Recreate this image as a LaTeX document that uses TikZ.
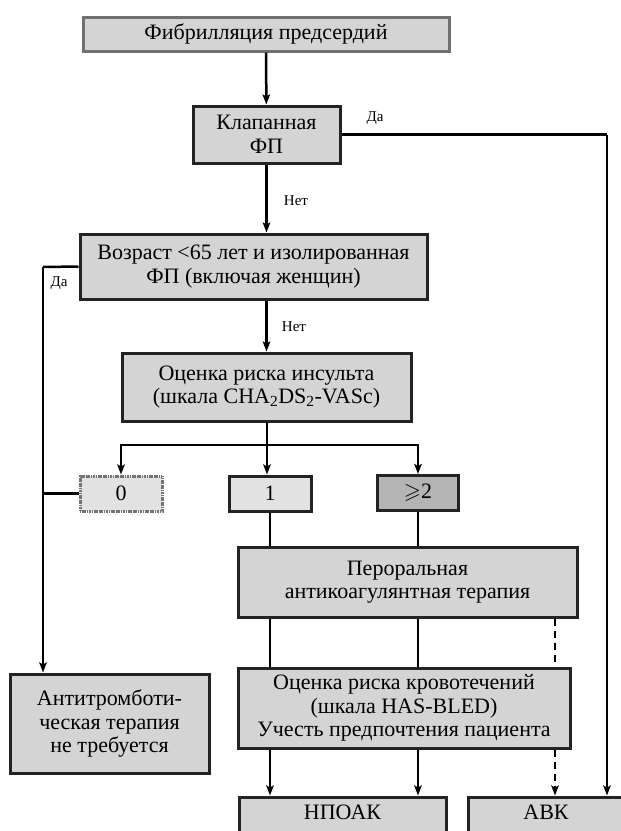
\documentclass[tikz,border=0pt]{standalone}
\usepackage{fontspec}
\setmainfont{Liberation Serif}
\usepackage{amssymb}
\usetikzlibrary{arrows.meta}

\definecolor{boxfill}{RGB}{212,212,212}
\definecolor{lowfill}{RGB}{226,226,226}
\definecolor{highfill}{RGB}{180,180,180}
\definecolor{boxline}{RGB}{35,35,35}
\definecolor{topline}{RGB}{112,112,112}

\tikzset{
  block/.style={draw=boxline, fill=boxfill, line width=3pt, align=center,
    inner sep=0pt, font=\fontsize{22}{23.5}\selectfont},
  tag/.style={font=\fontsize{15}{17}\selectfont},
  link/.style={line width=2.5pt},
  arr/.style={link, -{Stealth[length=10pt,width=7.5pt,inset=2pt]}},
  dashlink/.style={dash pattern=on 7pt off 5pt},
}

\begin{document}
\begin{tikzpicture}[x=1pt,y=-1pt]
\useasboundingbox (0,0) rectangle (621,831);
% boxes
\node[block, draw=topline, minimum width=366, minimum height=34] (fib) at (266,34) {Фибрилляция предсердий};
\node[block, minimum width=147, minimum height=57] (valv) at (266.5,134.5) {Клапанная\\ФП};
\node[block, minimum width=347, minimum height=65] (age) at (253.5,266.5) {Возраст <65 лет и изолированная\\ФП (включая женщин)};
\node[block, minimum width=289, minimum height=68] (stroke) at (266.5,387) {Оценка риска инсульта\\(шкала CHA\textsubscript{2}DS\textsubscript{2}-VASc)};
\node[block, fill=lowfill, draw=black!55, dash pattern=on 1.2pt off 0.5pt, minimum width=82, minimum height=35] (s0) at (121,493.5) {0};
\node[block, fill=lowfill, minimum width=82, minimum height=35] (s1) at (270,493.5) {1};
\node[block, fill=highfill, minimum width=81, minimum height=35] (s2) at (418,493) {$\geqslant$2};
\node[block, minimum width=339, minimum height=70] (oac) at (407.5,582) {Пероральная\\антикоагулянтная терапия};
\node[block, minimum width=332, minimum height=80] (bleed) at (404,708) {Оценка риска кровотечений\\(шкала HAS-BLED)\\Учесть предпочтения пациента};
\node[block, minimum width=199, minimum height=99] (noat) at (109.5,723.5) {Антитромботи-\\ческая терапия\\не требуется};
\node[block, minimum width=207, minimum height=66] (noac) at (342.5,830) {НПОАК\\[12pt]\mbox{}};
\node[block, minimum width=156, minimum height=66] (vka) at (546,830) {АВК\\[12pt]\mbox{}};
% corner points
\coordinate (rgt) at (607,134.5);
\coordinate (lft) at (43,267);
\coordinate (fork) at (267,445);
\coordinate (dsh) at (555,582);
% labels
\node[tag] (yes1) at (375,118) {Да};
\node[tag] (no1) at (296,201) {Нет};
\node[tag] (yes2) at (59,283) {Да};
\node[tag] (no2) at (294,327) {Нет};
% connectors
\path[draw,arr] (fib) -- (valv);
\path[draw,link] (valv.east) -- (rgt);
\path[draw,arr] (rgt) -- (rgt |- vka.north);
\path[draw,arr] (valv.south) -- (valv.south |- age.north);
\path[draw,link] (age.west) -- (lft);
\path[draw,arr] (lft) -- (lft |- noat.north);
\path[draw,link] (s0.west) -- (lft |- s0.west);
\path[draw,arr] (age.south -| valv.south) -- (stroke.north -| valv.south);
\path[draw,link] (stroke.south -| fork) -- (fork);
\path[draw,arr] (fork) -| (s0.north);
\path[draw,arr] (fork) -| (s2.north);
\path[draw,arr] (fork) -- (fork |- s1.north);
\path[draw,link] (s1.south) -- (s1.south |- oac.north);
\path[draw,link] (s2.south) -- (s2.south |- oac.north);
\path[draw,link] (s1.south |- oac.south) -- (s1.south |- bleed.north);
\path[draw,link] (s2.south |- oac.south) -- (s2.south |- bleed.north);
\path[draw,link,dashlink] (dsh |- oac.south) -- (dsh |- bleed.north);
\path[draw,arr,dashlink] (dsh |- bleed.south) -- (dsh |- vka.north);
\path[draw,arr] (s1.south |- bleed.south) -- (s1.south |- noac.north);
\path[draw,arr] (s2.south |- bleed.south) -- (s2.south |- noac.north);
\end{tikzpicture}
\end{document}
